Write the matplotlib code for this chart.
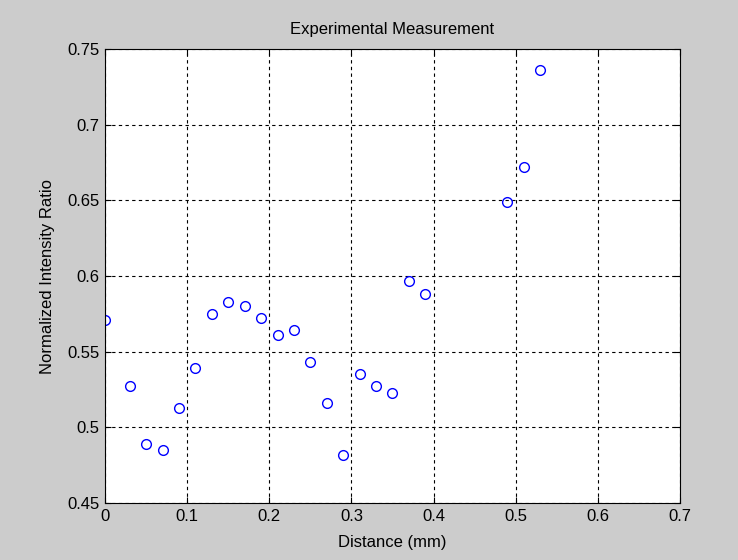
import matplotlib
matplotlib.use('Agg')
import matplotlib.pyplot as plt

distance = [0.0, 0.03, 0.05, 0.07, 0.09, 0.11, 0.13, 0.15, 0.17, 0.19, 0.21, 0.23,
            0.25, 0.27, 0.29, 0.31, 0.33, 0.35, 0.37, 0.39, 0.49, 0.51, 0.53]
ratio = [0.571, 0.527, 0.489, 0.485, 0.513, 0.539, 0.575, 0.583, 0.580, 0.572, 0.561, 0.564,
         0.543, 0.516, 0.482, 0.535, 0.527, 0.523, 0.597, 0.588, 0.649, 0.672, 0.736]
xticks = [0, 0.1, 0.2, 0.3, 0.4, 0.5, 0.6, 0.7]
xticklabels = ['0', '0.1', '0.2', '0.3', '0.4', '0.5', '0.6', '0.7']
yticks = [0.45, 0.5, 0.55, 0.6, 0.65, 0.7, 0.75]
yticklabels = ['0.45', '0.5', '0.55', '0.6', '0.65', '0.7', '0.75']

plt.rcParams['font.family'] = ['Liberation Sans', 'DejaVu Sans']
fs = 12

fig = plt.figure(figsize=(7.38, 5.6), dpi=100, facecolor='#cccccc')
ax = fig.add_axes([105 / 738, 57 / 560, 575 / 738, 454 / 560])
ax.set_facecolor('white')

ax.plot(distance, ratio, 'o', markerfacecolor='none', markeredgecolor='blue',
        markersize=7, markeredgewidth=1.0)

ax.set_xlim(0, 0.7)
ax.set_ylim(0.45, 0.75)
ax.set_xticks(xticks)
ax.set_xticklabels(xticklabels)
ax.set_yticks(yticks)
ax.set_yticklabels(yticklabels)
ax.tick_params(direction='in', length=4, color='black', labelsize=fs, pad=4,
               top=True, right=True)
ax.grid(True, color='black', linestyle=(0, (3, 3)), linewidth=0.8)
for s in ax.spines.values():
    s.set_color('black')
    s.set_linewidth(0.8)

ax.set_title('Experimental Measurement', fontsize=fs, pad=11)
ax.set_xlabel('Distance (mm)', fontsize=fs, labelpad=8)
ax.set_ylabel('Normalized Intensity Ratio', fontsize=fs, labelpad=9)

fig.savefig('out.png', dpi=100, facecolor=fig.get_facecolor())
